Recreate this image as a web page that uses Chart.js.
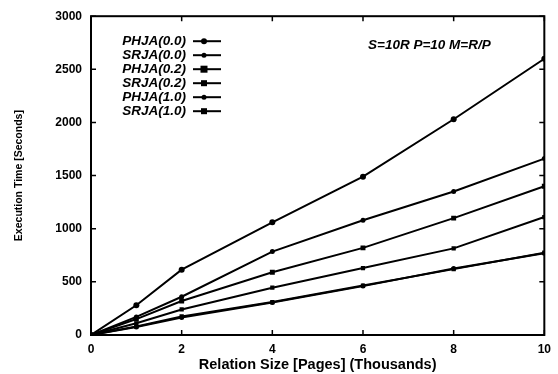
<!DOCTYPE html>
<html>
<head>
<meta charset="utf-8">
<script src="https://cdn.jsdelivr.net/npm/chart.js@4.4.0/dist/chart.umd.min.js"></script>
<style>
  html, body { margin: 0; padding: 0; background: #fff; }
  #wrap { width: 558px; height: 374px; }
</style>
</head>
<body>
<div id="wrap"><canvas id="chart" width="558" height="374"></canvas></div>
<script>
// relation size in thousands of pages
const sizes = [0, 1, 2, 4, 6, 8, 10];

const phja00 = [0, 280, 615, 1060, 1490, 2030, 2600];
const srja00 = [0, 170, 360, 785, 1080, 1350, 1660];
const phja02 = [0, 150, 320, 590, 820, 1100, 1400];
const srja02 = [0, 110, 240, 445, 630, 815, 1110];
const phja10 = [0, 75, 165, 305, 460, 625, 770];
const srja10 = [0, 80, 175, 310, 465, 620, 775];

const seriesNames = ['PHJA(0.0)', 'SRJA(0.0)', 'PHJA(0.2)', 'SRJA(0.2)', 'PHJA(1.0)', 'SRJA(1.0)'];
const seriesValues = [phja00, srja00, phja02, srja02, phja10, srja10];
const markerShapes = ['circle', 'circle', 'rect', 'rect', 'circle', 'rect'];
const markerSizes = [3, 2.5, 3.5, 3, 2.5, 3];

const xTicks = [0, 2, 4, 6, 8, 10];
const yTicks = [0, 500, 1000, 1500, 2000, 2500, 3000];
const note = 'S=10R P=10 M=R/P';

const fontFamily = '"Liberation Sans", Arial, sans-serif';

const datasets = seriesNames.map((name, i) => ({
    label: name,
    data: sizes.map((x, j) => ({ x: x, y: seriesValues[i][j] })),
    borderColor: '#000',
    backgroundColor: '#000',
    borderWidth: 2,
    pointStyle: markerShapes[i],
    pointRadius: markerSizes[i],
    pointBorderWidth: 0,
    tension: 0
}));

// inner ticks on all four sides, frame, legend and note
const framePlugin = {
    id: 'frame',
    afterDraw(chart) {
        const ctx = chart.ctx;
        const a = chart.chartArea;
        const xs = chart.scales.x;
        const ys = chart.scales.y;
        ctx.save();
        ctx.strokeStyle = '#000';
        ctx.lineWidth = 2;
        ctx.strokeRect(a.left, a.top, a.right - a.left, a.bottom - a.top);

        ctx.lineWidth = 1.5;
        ctx.beginPath();
        xTicks.forEach(v => {
            const px = xs.getPixelForValue(v);
            ctx.moveTo(px, a.bottom); ctx.lineTo(px, a.bottom - 5);
            ctx.moveTo(px, a.top); ctx.lineTo(px, a.top + 5);
        });
        yTicks.forEach(v => {
            const py = ys.getPixelForValue(v);
            ctx.moveTo(a.left, py); ctx.lineTo(a.left + 5, py);
            ctx.moveTo(a.right, py); ctx.lineTo(a.right - 5, py);
        });
        ctx.stroke();

        // legend: label, then a short line with the marker
        ctx.font = 'italic bold 13.5px ' + fontFamily;
        ctx.textBaseline = 'middle';
        ctx.textAlign = 'right';
        const textRight = a.left + 95;
        const lineLeft = a.left + 102;
        const lineRight = a.left + 130;
        const top = a.top + 25;
        seriesNames.forEach((name, i) => {
            const y = top + i * 14;
            ctx.fillStyle = '#000';
            ctx.fillText(name, textRight, y);
            ctx.lineWidth = 2;
            ctx.beginPath();
            ctx.moveTo(lineLeft, y); ctx.lineTo(lineRight, y);
            ctx.stroke();
            const mx = lineLeft + 11;
            const r = markerSizes[i];
            if (markerShapes[i] === 'rect') {
                ctx.fillRect(mx - r, y - r, r * 2, r * 2);
            } else {
                ctx.beginPath();
                ctx.arc(mx, y, r, 0, Math.PI * 2);
                ctx.fill();
            }
        });

        ctx.textAlign = 'left';
        ctx.font = 'italic bold 13.5px ' + fontFamily;
        ctx.fillText(note, a.left + 277, a.top + 29);
        ctx.restore();
    }
};

new Chart(document.getElementById('chart'), {
    type: 'line',
    data: { datasets: datasets },
    options: {
        responsive: false,
        animation: false,
        layout: { padding: { left: 13, right: 9, top: 16, bottom: 0 } },
        plugins: {
            legend: { display: false },
            tooltip: { enabled: false }
        },
        scales: {
            x: {
                type: 'linear',
                min: 0,
                max: 10,
                afterBuildTicks: s => { s.ticks = xTicks.map(v => ({ value: v })); },
                afterFit: s => { s.height = 39; },
                grid: { display: false, drawTicks: false },
                border: { display: false },
                ticks: {
                    color: '#000',
                    padding: 7,
                    callback: v => String(v),
                    font: { family: fontFamily, size: 12, weight: 'bold' }
                },
                title: {
                    display: true,
                    text: 'Relation Size [Pages] (Thousands)',
                    color: '#000',
                    padding: { top: 0, bottom: 0 },
                    font: { family: fontFamily, size: 14.5, weight: 'bold' }
                }
            },
            y: {
                min: 0,
                max: 3000,
                afterBuildTicks: s => { s.ticks = yTicks.map(v => ({ value: v })); },
                afterFit: s => { s.width = 78; },
                grid: { display: false, drawTicks: false },
                border: { display: false },
                ticks: {
                    color: '#000',
                    padding: 9,
                    callback: v => String(v),
                    font: { family: fontFamily, size: 12, weight: 'bold' }
                },
                title: {
                    display: true,
                    text: 'Execution Time [Seconds]',
                    color: '#000',
                    padding: { top: 0, bottom: 0 },
                    font: { family: fontFamily, size: 10.5, weight: 'bold' }
                }
            }
        }
    },
    plugins: [framePlugin]
});
</script>
</body>
</html>
